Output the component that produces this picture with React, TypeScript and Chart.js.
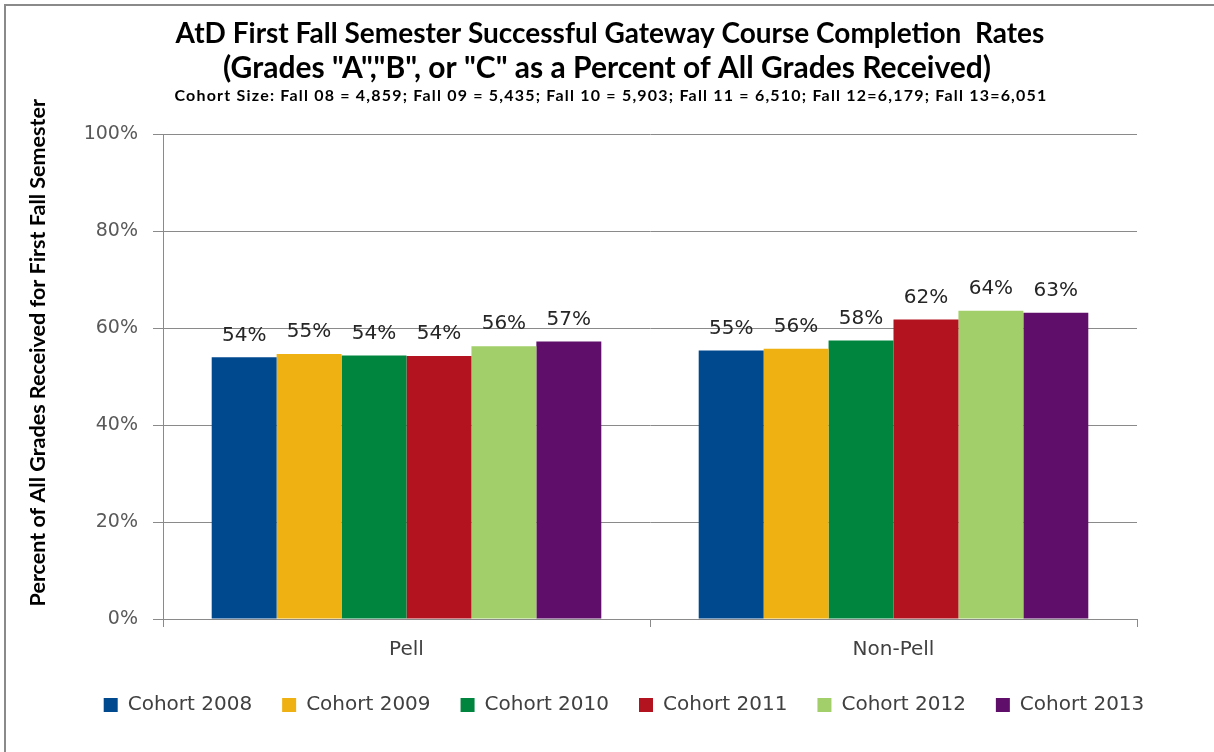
import React, { useEffect, useRef } from "react";
import { Chart, registerables } from "chart.js";

Chart.register(...registerables);

const categories = ["Pell", "Non-Pell"];
const seriesNames = ["Cohort 2008", "Cohort 2009", "Cohort 2010", "Cohort 2011", "Cohort 2012", "Cohort 2013"];
const cohort2008 = [54.0, 55.4];
const cohort2009 = [54.7, 55.8];
const cohort2010 = [54.4, 57.5];
const cohort2011 = [54.3, 61.8];
const cohort2012 = [56.3, 63.6];
const cohort2013 = [57.3, 63.2];
const seriesValues = [cohort2008, cohort2009, cohort2010, cohort2011, cohort2012, cohort2013];
const seriesColors = ["#00498F", "#EEB111", "#00853E", "#B3121F", "#A2CF69", "#5F0F69"];
const yMin = 0;
const yMax = 100;
const yStep = 20;

const titleLine1 = "AtD First Fall Semester Successful Gateway Course Completion  Rates";
const titleLine2 = "(Grades \"A\",\"B\", or \"C\" as a Percent of All Grades Received)";
const titleLine3 =
  "Cohort Size: Fall 08 = 4,859; Fall 09 = 5,435; Fall 10 = 5,903; Fall 11 = 6,510; Fall 12=6,179; Fall 13=6,051";
const yAxisTitle = "Percent of All Grades Received for First Fall Semester";

const GRID = "#8a8a8a";
const LABEL_FONT = "'DejaVu Sans', Verdana, sans-serif";
const TITLE_FONT = "Lato, 'Open Sans', sans-serif";

const valueLabels = {
  id: "valueLabels",
  afterDatasetsDraw(chart: any) {
    const ctx = chart.ctx;
    ctx.save();
    ctx.font = `20px ${LABEL_FONT}`;
    ctx.fillStyle = "#262626";
    ctx.textAlign = "center";
    ctx.textBaseline = "middle";
    chart.data.datasets.forEach((ds: any, i: number) => {
      const meta = chart.getDatasetMeta(i);
      meta.data.forEach((bar: any, j: number) => {
        ctx.fillText(Math.round(ds.data[j]) + "%", bar.x, bar.y - 22);
      });
    });
    ctx.restore();
  },
};

const extraText = {
  id: "extraText",
  afterLayout(chart: any) {
    if (chart.legend) {
      chart.legend.left += 17;
      chart.legend.right += 17;
    }
    if (chart.titleBlock) {
      chart.titleBlock.left += 3;
      chart.titleBlock.right += 3;
    }
  },
  afterDraw(chart: any) {
    const ctx = chart.ctx;
    const area = chart.chartArea;
    ctx.save();
    ctx.fillStyle = "#ffffff";
    ctx.fillRect(chart.width - 12, 0, 12, chart.height);
    ctx.fillStyle = "#8a8a8a";
    ctx.fillRect(4, 4, chart.width - 4, 2);
    ctx.fillRect(4, 4, 2, chart.height - 4);
    ctx.restore();
    ctx.save();
    ctx.font = `bold 21.5px ${TITLE_FONT}`;
    ctx.fillStyle = "#000000";
    ctx.textAlign = "center";
    ctx.textBaseline = "middle";
    ctx.translate(38, (area.top + area.bottom) / 2 - 24);
    ctx.rotate(-Math.PI / 2);
    ctx.fillText(yAxisTitle, 0, 0);
    ctx.restore();
    ctx.save();
    ctx.font = `bold 16px ${TITLE_FONT}`;
    (ctx as any).letterSpacing = "1.2px";
    ctx.fillStyle = "#000000";
    ctx.textAlign = "center";
    ctx.textBaseline = "middle";
    ctx.fillText(titleLine3, 611, area.top - 38.5);
    ctx.restore();
  },
};

function BarChart() {
  const ref = useRef<HTMLCanvasElement | null>(null);

  useEffect(() => {
    document.documentElement.style.overflow = "hidden";
    document.body.style.overflow = "hidden";
    document.body.style.margin = "0";
    if (!ref.current) return;
    const chart = new Chart(ref.current, {
      type: "bar",
      data: {
        labels: categories,
        datasets: seriesNames.map((name, i) => ({
          label: name,
          data: seriesValues[i],
          backgroundColor: seriesColors[i],
          borderWidth: 0,
          categoryPercentage: 0.8,
          barPercentage: 1.0,
        })),
      },
      options: {
        responsive: false,
        animation: false,
        devicePixelRatio: 1,
        layout: { padding: { left: 0, right: 0, top: 0, bottom: 27 } },
        plugins: {
          title: {
            display: true,
            text: titleLine1,
            color: "#000000",
            font: { family: TITLE_FONT, size: 28, weight: "bold", lineHeight: 1.2 },
            padding: { top: 17.2, bottom: 0 },
          },
          subtitle: {
            display: true,
            text: titleLine2,
            color: "#000000",
            font: { family: TITLE_FONT, size: 30, weight: "bold", lineHeight: 1.2 },
            padding: { top: 0, bottom: 47.7 },
          },
          legend: {
            position: "bottom",
            labels: {
              boxWidth: 14,
              boxHeight: 14,
              padding: 30,
              color: "#404040",
              font: { family: LABEL_FONT, size: 20 },
            },
          },
          tooltip: { enabled: false },
        },
        scales: {
          x: {
            offset: true,
            grid: { offset: true, drawOnChartArea: false, drawTicks: true, tickLength: 8, color: GRID },
            border: { display: true, color: GRID, width: 1 },
            ticks: { color: "#404040", font: { family: LABEL_FONT, size: 20 }, padding: 11 },
            afterFit: (s: any) => {
              s.height = 46;
            },
          },
          y: {
            min: yMin,
            max: yMax,
            ticks: {
              stepSize: yStep,
              color: "#595959",
              font: { family: LABEL_FONT, size: 19 },
              padding: 15,
              callback: (v: any) => v + "%",
            },
            grid: { color: GRID, tickLength: 10, lineWidth: 1 },
            border: { display: true, color: GRID, width: 1 },
            afterFit: (s: any) => {
              s.width = 163;
            },
          },
          yRight: {
            type: "linear",
            position: "right",
            display: true,
            grid: { display: false, drawTicks: false },
            border: { display: false },
            ticks: { display: false },
            afterFit: (s: any) => {
              s.width = 77;
            },
          },
        },
      } as any,
      plugins: [valueLabels, extraText],
    });
    return () => chart.destroy();
  }, []);

  return <canvas ref={ref} width={1214} height={752} style={{ display: "block", background: "#ffffff" }} />;
}

export default function App() {
  return (
    <div style={{ position: "fixed", left: 0, top: 0, width: 1214, height: 752, background: "#ffffff", overflow: "hidden" }}>
      <BarChart />
    </div>
  );
}
